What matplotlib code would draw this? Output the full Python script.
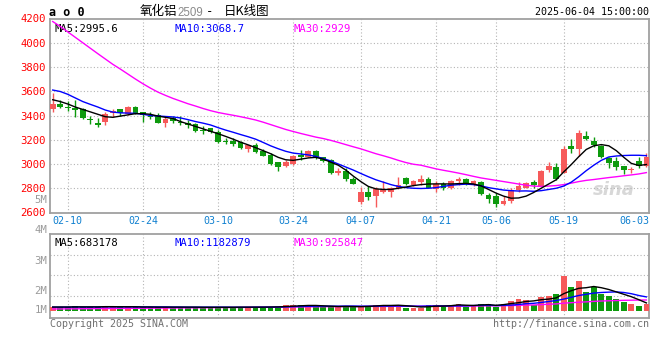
import matplotlib
matplotlib.use("Agg")
import matplotlib.pyplot as plt

# daily candles, index 0 = 2025-02-06
opens = [3453, 3494, 3472, 3464, 3450, 3365, 3340, 3346, 3420, 3453,
         3409, 3472, 3426, 3398, 3402, 3340, 3376, 3350, 3340, 3329,
         3280, 3293, 3266, 3192, 3192, 3181, 3123, 3156, 3109, 3073,
         3018, 2980, 2999, 3073, 3060, 3106, 3054, 3032, 2928, 2941,
         2875, 2688, 2771, 2735, 2771, 2765, 2806, 2881, 2826, 2848,
         2875, 2790, 2839, 2804, 2859, 2875, 2826, 2853, 2743, 2738,
         2669, 2697, 2784, 2806, 2853, 2820, 2950, 2972, 2928, 3150,
         3123, 3233, 3192, 3150, 3051, 3024, 2985, 2950, 3027, 2985]
highs = [3582, 3527, 3519, 3527, 3458, 3395, 3381, 3431, 3450, 3453,
         3481, 3481, 3426, 3431, 3417, 3390, 3395, 3395, 3362, 3335,
         3313, 3293, 3280, 3211, 3211, 3192, 3156, 3170, 3123, 3087,
         3018, 3032, 3073, 3115, 3115, 3115, 3060, 3038, 2963, 2963,
         2889, 2812, 2817, 2812, 2861, 2812, 2889, 2889, 2870, 2908,
         2889, 2861, 2853, 2867, 2889, 2881, 2871, 2861, 2763, 2757,
         2735, 2798, 2853, 2850, 2867, 2950, 3018, 3005, 3148, 3205,
         3280, 3274, 3225, 3156, 3060, 3060, 2985, 2977, 3060, 3087]
lows = [3425, 3459, 3437, 3390, 3368, 3332, 3302, 3321, 3390, 3398,
        3403, 3409, 3348, 3368, 3335, 3305, 3335, 3325, 3293, 3266,
        3247, 3252, 3170, 3161, 3150, 3120, 3101, 3093, 3068, 2991,
        2944, 2972, 2991, 3032, 3054, 3038, 3020, 2917, 2908, 2861,
        2831, 2674, 2702, 2647, 2757, 2729, 2795, 2826, 2817, 2826,
        2798, 2771, 2784, 2790, 2826, 2826, 2817, 2743, 2675, 2647,
        2661, 2680, 2771, 2798, 2798, 2815, 2936, 2867, 2922, 3087,
        3065, 3197, 3142, 3046, 2963, 2950, 2914, 2922, 2963, 2977]
closes = [3494, 3472, 3464, 3448, 3381, 3360, 3324, 3412, 3439, 3420,
          3470, 3417, 3404, 3390, 3340, 3375, 3357, 3342, 3321, 3274,
          3271, 3260, 3183, 3183, 3164, 3134, 3156, 3101, 3068, 2999,
          2977, 3018, 3068, 3060, 3106, 3046, 3027, 2922, 2941, 2875,
          2839, 2765, 2729, 2790, 2784, 2804, 2826, 2834, 2859, 2875,
          2806, 2839, 2806, 2859, 2875, 2834, 2859, 2752, 2710, 2666,
          2694, 2784, 2820, 2842, 2826, 2941, 2985, 2875, 3120, 3123,
          3252, 3205, 3156, 3054, 3010, 2977, 2950, 2958, 2985, 3054]

ma5 = [3530, 3515, 3495, 3470, 3450, 3430, 3410, 3390, 3385, 3395,
       3405, 3415, 3415, 3410, 3395, 3385, 3375, 3350, 3330, 3310,
       3290, 3270, 3250, 3228, 3205, 3180, 3158, 3135, 3110, 3085,
       3055, 3035, 3030, 3040, 3050, 3055, 3040, 3015, 2990, 2950,
       2900, 2855, 2815, 2795, 2790, 2790, 2800, 2810, 2822, 2830,
       2835, 2836, 2836, 2835, 2838, 2840, 2835, 2820, 2790, 2760,
       2735, 2718, 2720, 2735, 2765, 2800, 2835, 2870, 2935, 2995,
       3060, 3120, 3150, 3160, 3150, 3110, 3055, 3005, 2988, 2995.6]
ma10 = [3610, 3598, 3575, 3545, 3515, 3492, 3470, 3445, 3428, 3422,
        3420, 3418, 3410, 3400, 3396, 3392, 3388, 3380, 3366, 3350,
        3337, 3322, 3300, 3280, 3262, 3243, 3225, 3205, 3178, 3150,
        3126, 3105, 3090, 3083, 3075, 3063, 3045, 3025, 3000, 2975,
        2950, 2922, 2895, 2870, 2850, 2830, 2815, 2805, 2800, 2798,
        2800, 2805, 2815, 2825, 2830, 2834, 2830, 2820, 2805, 2795,
        2785, 2780, 2777, 2778, 2775, 2780, 2790, 2800, 2818, 2850,
        2895, 2945, 2990, 3030, 3058, 3066, 3070, 3072, 3072, 3068.7]
ma30 = [4175, 4135, 4090, 4045, 4000, 3955, 3910, 3866, 3822, 3783,
        3742, 3701, 3662, 3626, 3593, 3566, 3541, 3519, 3497, 3478,
        3458, 3440, 3425, 3413, 3402, 3390, 3377, 3363, 3345, 3325,
        3305, 3285, 3268, 3252, 3237, 3222, 3210, 3195, 3178, 3160,
        3142, 3125, 3105, 3085, 3068, 3050, 3030, 3012, 2998, 2990,
        2975, 2960, 2948, 2937, 2925, 2912, 2898, 2885, 2875, 2865,
        2855, 2845, 2835, 2825, 2818, 2815, 2818, 2822, 2830, 2842,
        2855, 2865, 2872, 2880, 2888, 2895, 2903, 2910, 2918, 2929]

# volume in millions
volume = [0.35, 0.35, 0.33, 0.42, 0.33, 0.33, 0.33, 0.45, 0.35, 0.33,
          0.35, 0.33, 0.33, 0.33, 0.33, 0.35, 0.33, 0.33, 0.33, 0.33,
          0.28, 0.33, 0.33, 0.33, 0.33, 0.33, 0.35, 0.33, 0.33, 0.33,
          0.38, 0.50, 0.50, 0.48, 0.45, 0.40, 0.38, 0.35, 0.35, 0.46,
          0.35, 0.35, 0.46, 0.54, 0.54, 0.46, 0.46, 0.26, 0.26, 0.26,
          0.54, 0.54, 0.46, 0.46, 0.63, 0.35, 0.46, 0.63, 0.63, 0.35,
          0.63, 0.88, 1.04, 0.96, 0.54, 1.18, 1.29, 1.46, 2.90, 1.99,
          2.49, 1.57, 2.01, 1.46, 1.24, 1.00, 0.75, 0.60, 0.45, 0.62]
vol_ma5 = [0.34, 0.34, 0.34, 0.35, 0.35, 0.35, 0.35, 0.37, 0.37, 0.36,
           0.36, 0.36, 0.34, 0.34, 0.33, 0.33, 0.33, 0.33, 0.33, 0.33,
           0.32, 0.32, 0.32, 0.32, 0.32, 0.33, 0.33, 0.33, 0.33, 0.34,
           0.35, 0.38, 0.41, 0.44, 0.47, 0.47, 0.44, 0.41, 0.38, 0.39,
           0.38, 0.37, 0.39, 0.43, 0.47, 0.47, 0.49, 0.45, 0.40, 0.34,
           0.36, 0.41, 0.42, 0.45, 0.52, 0.49, 0.47, 0.51, 0.54, 0.48,
           0.54, 0.63, 0.70, 0.80, 0.85, 0.95, 1.00, 1.10, 1.45, 1.70,
           1.90, 1.95, 2.05, 1.95, 1.80, 1.60, 1.40, 1.20, 0.95, 0.683]
vol_ma10 = [0.33, 0.33, 0.33, 0.34, 0.34, 0.34, 0.34, 0.35, 0.35, 0.35,
            0.35, 0.35, 0.35, 0.35, 0.35, 0.35, 0.34, 0.34, 0.33, 0.33,
            0.33, 0.33, 0.33, 0.33, 0.32, 0.32, 0.32, 0.33, 0.33, 0.33,
            0.34, 0.35, 0.37, 0.39, 0.40, 0.41, 0.41, 0.41, 0.41, 0.42,
            0.42, 0.41, 0.41, 0.41, 0.42, 0.42, 0.43, 0.42, 0.41, 0.41,
            0.42, 0.43, 0.43, 0.43, 0.44, 0.44, 0.46, 0.48, 0.49, 0.46,
            0.48, 0.50, 0.55, 0.62, 0.65, 0.72, 0.80, 0.88, 1.00, 1.15,
            1.30, 1.40, 1.50, 1.55, 1.58, 1.60, 1.55, 1.45, 1.30, 1.183]
vol_ma30 = [0.18, 0.18, 0.19, 0.19, 0.20, 0.20, 0.21, 0.21, 0.22, 0.22,
            0.23, 0.23, 0.24, 0.24, 0.25, 0.25, 0.26, 0.26, 0.27, 0.27,
            0.28, 0.28, 0.29, 0.29, 0.30, 0.30, 0.31, 0.31, 0.32, 0.32,
            0.33, 0.34, 0.35, 0.35, 0.36, 0.36, 0.37, 0.37, 0.37, 0.38,
            0.38, 0.38, 0.39, 0.39, 0.39, 0.40, 0.40, 0.40, 0.40, 0.40,
            0.41, 0.41, 0.41, 0.42, 0.42, 0.42, 0.43, 0.43, 0.44, 0.44,
            0.45, 0.46, 0.48, 0.50, 0.51, 0.54, 0.57, 0.60, 0.66, 0.70,
            0.74, 0.77, 0.81, 0.84, 0.86, 0.88, 0.90, 0.91, 0.92, 0.926]

date_ticks = [2, 12, 22, 32, 41, 51, 59, 68]
date_labels = ["02-10", "02-24", "03-10", "03-24", "04-07", "04-21", "05-06", "05-19"]
last_label = "06-03"
price_ticks = [2600, 2800, 3000, 3200, 3400, 3600, 3800, 4000, 4200]

RED = "#f65a5a"
GREEN = "#0d9a0d"
GRID = "#b4b4b4"
EDGE = "#a0a0a0"
MONO = "DejaVu Sans Mono"
W, H = 660, 360

fig = plt.figure(figsize=(W / 100, H / 100), dpi=100)


def px_axes(left, top, right, bottom):
    return fig.add_axes([left / W, 1 - bottom / H, (right - left) / W, (bottom - top) / H])


def px_text(x, y, s, **kw):
    fig.text(x / W, 1 - y / H, s, **kw)


n = len(closes)
xs = list(range(n))
colors = [RED if c >= o else GREEN for o, c in zip(opens, closes)]
xlim = (-0.36, 79.39)

# ---- price panel
ax = px_axes(50, 18.5, 649.3, 212.5)
ax.set_xlim(*xlim)
ax.set_ylim(2600, 4200)
ax.vlines(xs, lows, highs, colors=colors, linewidth=1.0, zorder=2)
bottoms = [min(o, c) for o, c in zip(opens, closes)]
heights = [max(abs(c - o), 8) for o, c in zip(opens, closes)]
ax.bar(xs, heights, bottom=bottoms, width=0.76, color=colors, linewidth=0, zorder=3)
ax.plot(xs, ma30, color="#ff00ff", lw=1.0, zorder=4)
ax.plot(xs, ma10, color="#0000ff", lw=1.0, zorder=4)
ax.plot(xs, ma5, color="#000000", lw=1.0, zorder=4)

ax.set_yticks(price_ticks)
ax.set_yticklabels([str(t) for t in price_ticks], color="#ff0000", fontsize=7.6, family=MONO)
ax.set_xticks([])
ax.tick_params(axis="y", length=0, pad=3)
for t in price_ticks[1:-1]:
    ax.axhline(t, color=GRID, lw=0.8, ls=(0, (1, 2)), zorder=1)
for t in date_ticks:
    ax.axvline(t, color=GRID, lw=0.8, ls=(0, (1, 2)), zorder=1)
for s in ax.spines.values():
    s.set_color(EDGE)
    s.set_linewidth(1.3)

ax.text(0.007, 0.972, "MA5:2995.6", transform=ax.transAxes, color="black",
        fontsize=7.6, family=MONO, va="top")
ax.text(0.207, 0.972, "MA10:3068.7", transform=ax.transAxes, color="#0000ff",
        fontsize=7.6, family=MONO, va="top")
ax.text(0.407, 0.972, "MA30:2929", transform=ax.transAxes, color="#ff00ff",
        fontsize=7.6, family=MONO, va="top")
ax.text(0.975, 0.07, "sina", transform=ax.transAxes, color="#d8d8d8", fontsize=13,
        fontweight="bold", style="italic", ha="right", va="bottom", zorder=0)

# ---- volume panel
vx = px_axes(50, 234.3, 649.3, 318.3)
vx.set_xlim(*xlim)
vx.set_ylim(-0.6, 6.4)
vcolors = colors
vx.bar(xs, volume, width=0.76, color=vcolors, linewidth=0, zorder=3)
vx.plot(xs, vol_ma30, color="#ff00ff", lw=1.0, zorder=4)
vx.plot(xs, vol_ma10, color="#0000ff", lw=1.0, zorder=4)
vx.plot(xs, vol_ma5, color="#000000", lw=1.0, zorder=4)
vx.set_xticks([])
vx.set_yticks([])
for g in [1.3, 3.0, 4.7]:
    vx.axhline(g, color=GRID, lw=0.8, ls=(0, (1, 2)), zorder=1)
for t in date_ticks:
    vx.axvline(t, color=GRID, lw=0.8, ls=(0, (1, 2)), zorder=1)
for s in vx.spines.values():
    s.set_color(EDGE)
    s.set_linewidth(1.3)
vx.text(0.007, 0.96, "MA5:683178", transform=vx.transAxes, color="black",
        fontsize=7.6, family=MONO, va="top")
vx.text(0.207, 0.96, "MA10:1182879", transform=vx.transAxes, color="#0000ff",
        fontsize=7.6, family=MONO, va="top")
vx.text(0.407, 0.96, "MA30:925847", transform=vx.transAxes, color="#ff00ff",
        fontsize=7.6, family=MONO, va="top")

# volume labels (drawn where the source draws them)
for lab, y in [("5M", 200), ("4M", 230.5), ("3M", 260.5), ("2M", 290.5), ("1M", 310)]:
    px_text(47, y, lab, color="#9a9a9a", fontsize=7.6, family=MONO, ha="right", va="center")

# date labels between panels
for t, lab in zip(date_ticks, date_labels):
    x = 50 + (t - xlim[0]) / (xlim[1] - xlim[0]) * 599.3
    px_text(x, 221, lab, color="#1080d0", fontsize=7.2, family=MONO, ha="center", va="center")
px_text(649.5, 221, last_label, color="#1080d0", fontsize=7.2, family=MONO, ha="right", va="center")

# header
px_text(49, 12, "a o 0", color="black", fontsize=8.5, family=MONO, fontweight="bold", va="center")
cjk = ["Noto Sans CJK SC", "DejaVu Sans"]
px_text(140, 12, "氧化铝", color="black", fontsize=9, family=cjk, va="center")
px_text(177, 12.5, "2509", color="#8a8a8a", fontsize=8.3, family="Liberation Sans", va="center")
px_text(206, 12, "-", color="black", fontsize=9, family=MONO, va="center")
px_text(224, 12, "日K线图", color="black", fontsize=9, family=cjk, va="center")
px_text(649, 12, "2025-06-04 15:00:00", color="black", fontsize=7.2, family=MONO,
        ha="right", va="center")

# footer
px_text(50, 324, "Copyright 2025 SINA.COM", color="#707070", fontsize=7.2, family=MONO, va="center")
px_text(649, 324, "http://finance.sina.com.cn", color="#707070", fontsize=7.2, family=MONO,
        ha="right", va="center")

fig.savefig("out.png", dpi=100)
